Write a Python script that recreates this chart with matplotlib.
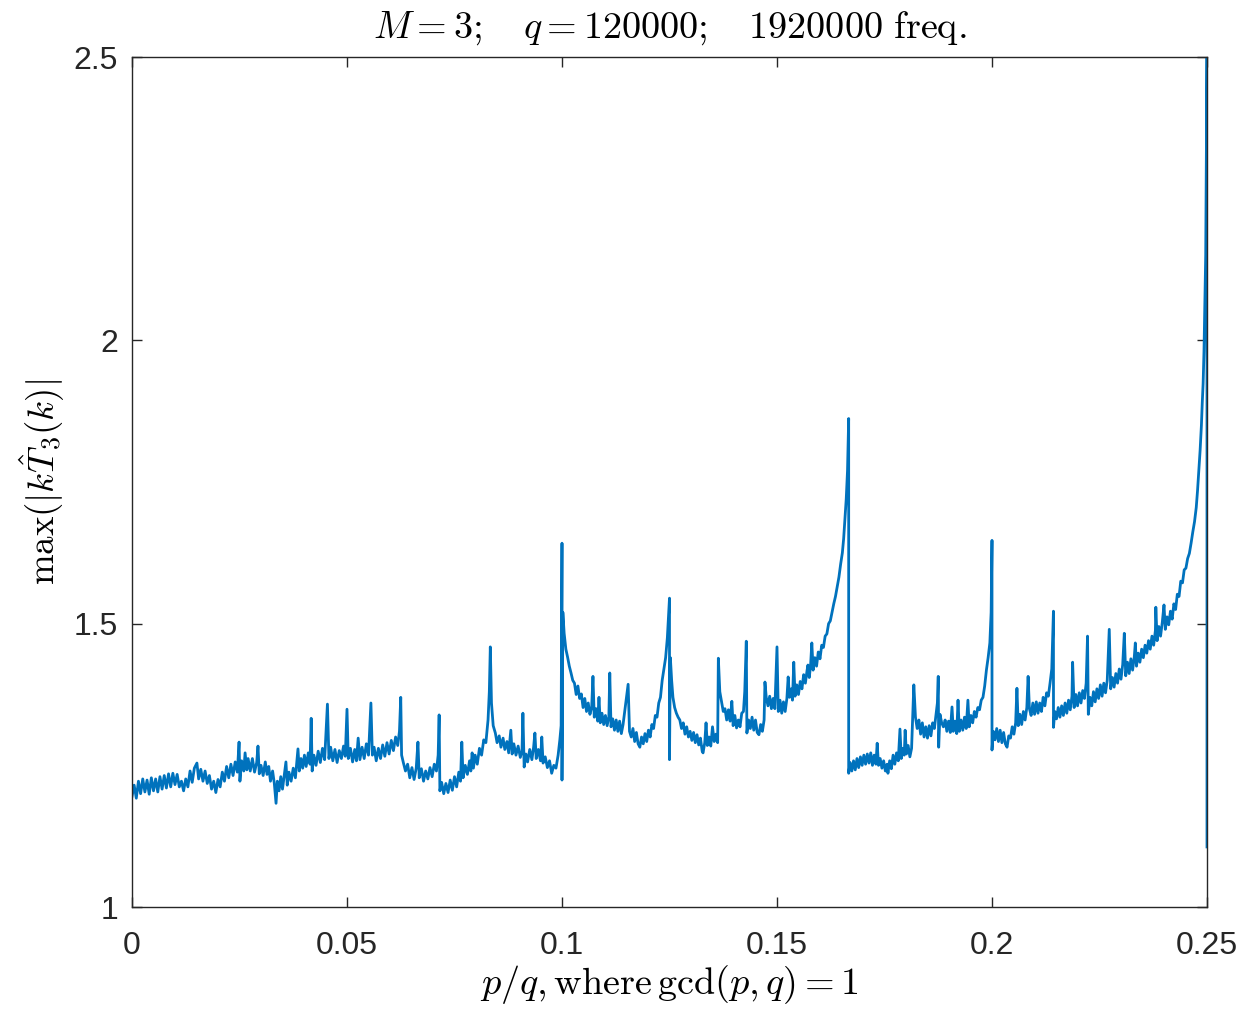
import numpy as np
import matplotlib
matplotlib.use("Agg")
import matplotlib.pyplot as plt

plt.rcParams['mathtext.fontset'] = 'cm'
plt.rcParams['font.family'] = ['Liberation Sans', 'DejaVu Sans']

# ---- data: (p/q, max|k T3(k)|) ----
seg_low = [  # 0 .. 0.1
    (0.0000, 1.195), (0.0005, 1.215), (0.0010, 1.192), (0.0015, 1.222), (0.0020, 1.200),
    (0.0025, 1.226), (0.0030, 1.203), (0.0035, 1.224), (0.0040, 1.199), (0.0045, 1.228),
    (0.0050, 1.205), (0.0055, 1.226), (0.0060, 1.203), (0.0065, 1.230), (0.0070, 1.208),
    (0.0075, 1.232), (0.0080, 1.210), (0.0085, 1.235), (0.0090, 1.212), (0.0095, 1.236),
    (0.0100, 1.216), (0.0105, 1.234), (0.0110, 1.212), (0.0115, 1.222), (0.0120, 1.205),
    (0.0125, 1.226), (0.0130, 1.212), (0.0135, 1.240), (0.0140, 1.220), (0.0145, 1.245),
    (0.0151, 1.254), (0.0155, 1.226), (0.0160, 1.243), (0.0165, 1.222), (0.0170, 1.240),
    (0.0175, 1.218), (0.0180, 1.232), (0.0185, 1.208), (0.0190, 1.222), (0.0195, 1.202),
    (0.0200, 1.225), (0.0205, 1.212), (0.0210, 1.238), (0.0215, 1.222), (0.0220, 1.248),
    (0.0225, 1.228), (0.0230, 1.252), (0.0235, 1.232), (0.0240, 1.256), (0.0245, 1.238),
    (0.0249, 1.291), (0.0251, 1.222), (0.0255, 1.258), (0.0260, 1.240), (0.0263, 1.272),
    (0.0267, 1.242), (0.0270, 1.262), (0.0275, 1.240), (0.0280, 1.262), (0.0285, 1.238),
    (0.0290, 1.255), (0.0293, 1.284), (0.0296, 1.235), (0.0300, 1.250), (0.0305, 1.232),
    (0.0310, 1.256), (0.0314, 1.234), (0.0318, 1.248), (0.0322, 1.222), (0.0327, 1.240),
    (0.0331, 1.218), (0.0335, 1.183), (0.0338, 1.222), (0.0342, 1.205), (0.0346, 1.230),
    (0.0350, 1.208), (0.0354, 1.232), (0.0358, 1.256), (0.0361, 1.215), (0.0365, 1.238),
    (0.0370, 1.222), (0.0375, 1.245), (0.0380, 1.228), (0.0386, 1.279), (0.0389, 1.240),
    (0.0393, 1.262), (0.0397, 1.245), (0.0401, 1.268), (0.0405, 1.248), (0.0410, 1.272),
    (0.0414, 1.252), (0.04167, 1.333), (0.0419, 1.240), (0.0423, 1.268), (0.0428, 1.250),
    (0.0433, 1.275), (0.0438, 1.255), (0.0443, 1.280), (0.0448, 1.260), (0.04545, 1.358),
    (0.0458, 1.262), (0.0462, 1.282), (0.0467, 1.258), (0.0472, 1.278), (0.0477, 1.255),
    (0.0482, 1.276), (0.0487, 1.262), (0.0492, 1.284), (0.0496, 1.266), (0.0500, 1.349),
    (0.0503, 1.262), (0.0508, 1.280), (0.0513, 1.256), (0.0518, 1.278), (0.0522, 1.258),
    (0.0526, 1.298), (0.0530, 1.260), (0.0535, 1.282), (0.0540, 1.262), (0.0545, 1.288),
    (0.0550, 1.268), (0.05556, 1.360), (0.0559, 1.268), (0.0563, 1.282), (0.0568, 1.258),
    (0.0573, 1.280), (0.0578, 1.262), (0.0583, 1.286), (0.0588, 1.266), (0.0593, 1.290),
    (0.0598, 1.270), (0.0603, 1.294), (0.0608, 1.276), (0.0613, 1.300), (0.0618, 1.285),
    (0.0622, 1.310), (0.0625, 1.370), (0.0627, 1.268), (0.0631, 1.255), (0.0636, 1.240),
    (0.0641, 1.252), (0.0646, 1.228), (0.0651, 1.246), (0.0656, 1.225), (0.0661, 1.245),
    (0.0665, 1.291), (0.0668, 1.228), (0.0673, 1.244), (0.0678, 1.222), (0.0683, 1.240),
    (0.0688, 1.226), (0.0693, 1.246), (0.0698, 1.230), (0.0703, 1.252), (0.0708, 1.240),
    (0.0712, 1.268), (0.07143, 1.339), (0.0716, 1.205), (0.0720, 1.220), (0.0725, 1.200),
    (0.0730, 1.218), (0.0735, 1.202), (0.0740, 1.224), (0.0745, 1.206), (0.0750, 1.230),
    (0.0755, 1.212), (0.0760, 1.238), (0.0764, 1.222), (0.0767, 1.291), (0.0770, 1.228),
    (0.0775, 1.250), (0.0780, 1.234), (0.0785, 1.258), (0.0788, 1.240), (0.0791, 1.272),
    (0.0794, 1.245), (0.0798, 1.268), (0.0803, 1.252), (0.0808, 1.280), (0.0813, 1.268),
    (0.0818, 1.295), (0.0823, 1.290), (0.0828, 1.330), (0.0831, 1.380), (0.08333, 1.459),
    (0.0836, 1.360), (0.0840, 1.320), (0.0845, 1.307), (0.0849, 1.290), (0.0854, 1.302),
    (0.0858, 1.282), (0.0863, 1.298), (0.0867, 1.278), (0.0872, 1.292), (0.0876, 1.272),
    (0.0881, 1.312), (0.0884, 1.270), (0.0888, 1.288), (0.0893, 1.268), (0.0898, 1.284),
    (0.0903, 1.264), (0.0907, 1.275), (0.09091, 1.342), (0.0912, 1.247), (0.0916, 1.270),
    (0.0920, 1.256), (0.0925, 1.278), (0.0930, 1.260), (0.0934, 1.282), (0.0937, 1.307),
    (0.0940, 1.262), (0.0945, 1.278), (0.0950, 1.258), (0.0953, 1.300), (0.0956, 1.254),
    (0.0961, 1.265), (0.0966, 1.246), (0.0971, 1.258), (0.0976, 1.236), (0.0981, 1.250),
    (0.0986, 1.245), (0.0991, 1.268), (0.0995, 1.295), (0.0998, 1.320), (0.1000, 1.642),
    (0.1000, 1.224),
]

seg_mid = [  # 0.1 .. 1/6
    (0.1002, 1.520), (0.1005, 1.483), (0.1009, 1.455), (0.1013, 1.441), (0.1017, 1.425),
    (0.1021, 1.413), (0.1025, 1.400), (0.1029, 1.395), (0.1033, 1.375), (0.1037, 1.390),
    (0.1041, 1.368), (0.1045, 1.376), (0.1049, 1.352), (0.1053, 1.368), (0.1057, 1.345),
    (0.1061, 1.360), (0.1065, 1.340), (0.1069, 1.352), (0.1072, 1.407), (0.1075, 1.335),
    (0.1079, 1.350), (0.1083, 1.328), (0.1086, 1.370), (0.1089, 1.325), (0.1093, 1.342),
    (0.1097, 1.322), (0.1101, 1.338), (0.1105, 1.320), (0.1109, 1.336), (0.11111, 1.413),
    (0.1114, 1.318), (0.1118, 1.332), (0.1122, 1.312), (0.1126, 1.330), (0.1130, 1.310),
    (0.1134, 1.328), (0.1138, 1.306), (0.1142, 1.322), (0.11538, 1.393), (0.1157, 1.310),
    (0.1161, 1.300), (0.1165, 1.315), (0.1169, 1.292), (0.1173, 1.308), (0.1177, 1.288),
    (0.1181, 1.282), (0.1185, 1.300), (0.1189, 1.288), (0.1193, 1.306), (0.1197, 1.292),
    (0.1201, 1.312), (0.1205, 1.300), (0.1209, 1.322), (0.1213, 1.315), (0.1217, 1.338),
    (0.1221, 1.335), (0.1225, 1.360), (0.1229, 1.370), (0.1233, 1.400), (0.1237, 1.420),
    (0.1241, 1.440), (0.1245, 1.475), (0.1250, 1.545), (0.1250, 1.260), (0.1252, 1.440),
    (0.1255, 1.400), (0.1258, 1.370), (0.1262, 1.352), (0.1266, 1.342), (0.1270, 1.335),
    (0.1274, 1.330), (0.1278, 1.315), (0.1282, 1.325), (0.1286, 1.305), (0.1290, 1.318),
    (0.1294, 1.300), (0.1298, 1.310), (0.1302, 1.294), (0.1306, 1.308), (0.1310, 1.290),
    (0.1314, 1.304), (0.1318, 1.286), (0.1322, 1.298), (0.1326, 1.275), (0.1328, 1.272),
    (0.1332, 1.290), (0.1335, 1.325), (0.1338, 1.285), (0.1342, 1.300), (0.1346, 1.284),
    (0.1350, 1.318), (0.1354, 1.292), (0.1358, 1.305), (0.1362, 1.290), (0.13636, 1.439),
    (0.1367, 1.380), (0.1371, 1.363), (0.1375, 1.345), (0.1379, 1.350), (0.1383, 1.330),
    (0.1387, 1.348), (0.1391, 1.328), (0.1395, 1.363), (0.1398, 1.320), (0.1402, 1.338),
    (0.1406, 1.316), (0.1410, 1.330), (0.1414, 1.318), (0.1418, 1.342), (0.1422, 1.345),
    (0.1425, 1.380), (0.14286, 1.469), (0.1430, 1.307), (0.1434, 1.330), (0.1438, 1.315),
    (0.1442, 1.335), (0.1446, 1.312), (0.1450, 1.330), (0.1454, 1.308), (0.1458, 1.304),
    (0.1462, 1.322), (0.1466, 1.310), (0.1470, 1.330), (0.1472, 1.397), (0.1475, 1.370),
    (0.1479, 1.355), (0.1483, 1.372), (0.1487, 1.350), (0.1491, 1.368), (0.1495, 1.350),
    (0.1500, 1.459), (0.1503, 1.345), (0.1507, 1.365), (0.1511, 1.342), (0.1515, 1.362),
    (0.1519, 1.345), (0.1523, 1.368), (0.1526, 1.406), (0.1529, 1.370), (0.1533, 1.385),
    (0.1536, 1.365), (0.1539, 1.432), (0.1542, 1.372), (0.1546, 1.392), (0.1550, 1.375),
    (0.1554, 1.398), (0.1558, 1.385), (0.1562, 1.410), (0.1566, 1.395), (0.1570, 1.418),
    (0.1572, 1.427), (0.1575, 1.405), (0.1578, 1.425), (0.1581, 1.466), (0.1584, 1.418),
    (0.1588, 1.440), (0.1592, 1.425), (0.1596, 1.450), (0.1600, 1.438), (0.1604, 1.462),
    (0.1608, 1.458), (0.1612, 1.478), (0.1616, 1.482), (0.1620, 1.500), (0.1624, 1.505),
    (0.1628, 1.520), (0.1632, 1.535), (0.1636, 1.548), (0.1640, 1.565), (0.1644, 1.582),
    (0.1648, 1.605), (0.1652, 1.625), (0.1655, 1.650), (0.1658, 1.685), (0.1661, 1.720),
    (0.1664, 1.770), (0.16667, 1.862), (0.16667, 1.236),
]

seg_high = [  # 1/6 .. 0.25
    (0.1670, 1.255), (0.1674, 1.240), (0.1678, 1.258), (0.1682, 1.242), (0.1686, 1.262),
    (0.1690, 1.246), (0.1694, 1.265), (0.1698, 1.250), (0.1702, 1.268), (0.1706, 1.252),
    (0.1710, 1.270), (0.1714, 1.254), (0.1718, 1.272), (0.1722, 1.250), (0.1726, 1.268),
    (0.1730, 1.252), (0.1733, 1.289), (0.1736, 1.250), (0.1740, 1.262), (0.1744, 1.245),
    (0.1748, 1.258), (0.1752, 1.240), (0.1756, 1.252), (0.1758, 1.236), (0.1762, 1.258),
    (0.1766, 1.244), (0.1770, 1.268), (0.1774, 1.252), (0.1778, 1.272), (0.1782, 1.258),
    (0.1786, 1.314), (0.1789, 1.262), (0.1793, 1.280), (0.1796, 1.268), (0.1798, 1.312),
    (0.1801, 1.270), (0.1805, 1.285), (0.1809, 1.265), (0.1813, 1.280), (0.18182, 1.392),
    (0.1822, 1.335), (0.1826, 1.315), (0.1830, 1.330), (0.1834, 1.305), (0.1838, 1.325),
    (0.1842, 1.300), (0.1846, 1.318), (0.1850, 1.298), (0.1854, 1.320), (0.1858, 1.302),
    (0.1862, 1.325), (0.1866, 1.315), (0.1870, 1.340), (0.1873, 1.360), (0.1875, 1.407),
    (0.1876, 1.282), (0.1879, 1.340), (0.1883, 1.325), (0.1887, 1.318), (0.1891, 1.330),
    (0.1895, 1.310), (0.1899, 1.328), (0.1903, 1.308), (0.1907, 1.353), (0.1910, 1.310),
    (0.1914, 1.328), (0.1918, 1.306), (0.1921, 1.365), (0.1924, 1.310), (0.1928, 1.330),
    (0.1932, 1.312), (0.1936, 1.335), (0.1940, 1.315), (0.1944, 1.365), (0.1947, 1.318),
    (0.1951, 1.338), (0.1955, 1.325), (0.1959, 1.345), (0.1963, 1.335), (0.1967, 1.352),
    (0.1971, 1.348), (0.1975, 1.365), (0.1979, 1.370), (0.1983, 1.390), (0.1987, 1.418),
    (0.1991, 1.440), (0.1995, 1.466), (0.1998, 1.520), (0.2000, 1.647), (0.2000, 1.277),
    (0.2003, 1.310), (0.2007, 1.295), (0.2011, 1.315), (0.2015, 1.292), (0.2019, 1.312),
    (0.2023, 1.290), (0.2027, 1.308), (0.2031, 1.288), (0.2035, 1.282), (0.2039, 1.302),
    (0.2043, 1.298), (0.2047, 1.318), (0.2051, 1.305), (0.2055, 1.325), (0.2058, 1.386),
    (0.2061, 1.320), (0.2065, 1.340), (0.2069, 1.322), (0.2073, 1.345), (0.2077, 1.330),
    (0.2081, 1.352), (0.2084, 1.407), (0.2087, 1.350), (0.2091, 1.338), (0.2095, 1.360),
    (0.2099, 1.340), (0.2103, 1.362), (0.2107, 1.342), (0.2111, 1.360), (0.2115, 1.345),
    (0.2119, 1.370), (0.2123, 1.355), (0.2127, 1.378), (0.2131, 1.372), (0.2135, 1.395),
    (0.2139, 1.420), (0.21429, 1.522), (0.2143, 1.317), (0.2146, 1.345), (0.2150, 1.332),
    (0.2154, 1.352), (0.2158, 1.335), (0.2162, 1.355), (0.2166, 1.338), (0.2170, 1.360),
    (0.2174, 1.342), (0.2178, 1.365), (0.2182, 1.348), (0.2186, 1.372), (0.21875, 1.432),
    (0.2191, 1.352), (0.2195, 1.375), (0.2199, 1.355), (0.2203, 1.378), (0.2207, 1.360),
    (0.2211, 1.382), (0.2215, 1.368), (0.2219, 1.395), (0.22222, 1.478), (0.2224, 1.340),
    (0.2228, 1.370), (0.2232, 1.355), (0.2236, 1.380), (0.2240, 1.362), (0.2244, 1.385),
    (0.2248, 1.368), (0.2252, 1.392), (0.2256, 1.372), (0.2260, 1.395), (0.2264, 1.378),
    (0.2268, 1.400), (0.22727, 1.490), (0.2276, 1.385), (0.2280, 1.405), (0.2284, 1.388),
    (0.2288, 1.412), (0.2292, 1.395), (0.2296, 1.420), (0.2300, 1.402), (0.2304, 1.428),
    (0.23077, 1.483), (0.2311, 1.408), (0.2315, 1.432), (0.2319, 1.412), (0.2323, 1.438),
    (0.2327, 1.418), (0.2331, 1.442), (0.23333, 1.466), (0.2336, 1.425), (0.2340, 1.448),
    (0.2344, 1.432), (0.2348, 1.455), (0.2352, 1.440), (0.2356, 1.462), (0.2360, 1.448),
    (0.2364, 1.470), (0.2368, 1.455), (0.2372, 1.478), (0.2376, 1.462), (0.2380, 1.488),
    (0.23810, 1.529), (0.2384, 1.470), (0.2388, 1.495), (0.2392, 1.478), (0.2396, 1.502),
    (0.2400, 1.533), (0.2403, 1.490), (0.2407, 1.512), (0.2411, 1.498), (0.2415, 1.522),
    (0.2419, 1.508), (0.2423, 1.535), (0.2427, 1.525), (0.2431, 1.552), (0.2435, 1.548),
    (0.2439, 1.575), (0.2443, 1.572), (0.2447, 1.595), (0.2451, 1.598), (0.2455, 1.615),
    (0.2459, 1.624), (0.2463, 1.642), (0.2467, 1.662), (0.2471, 1.680), (0.2475, 1.705),
    (0.2478, 1.735), (0.2481, 1.770), (0.2484, 1.806), (0.2487, 1.850), (0.2489, 1.890),
    (0.2491, 1.924), (0.2493, 1.980), (0.2495, 2.070), (0.2497, 2.150), (0.2500, 2.500),
    (0.2500, 1.106),
]

x_ticks = [0, 0.05, 0.1, 0.15, 0.2, 0.25]
x_ticklabels = ['0', '0.05', '0.1', '0.15', '0.2', '0.25']
y_ticks = [1, 1.5, 2, 2.5]
y_ticklabels = ['1', '1.5', '2', '2.5']

title_txt = r'$M=3;\quad q=120000;\quad 1920000\ \mathrm{freq.}$'
xlabel_txt = r'$p/q,\mathrm{where\,gcd}(p,q)=1$'
ylabel_txt = r'$\max(|k\hat{T}_3(k)|$'

pts = seg_low + seg_mid + seg_high
xs = np.array([p[0] for p in pts])
ys = np.array([p[1] for p in pts])

fig = plt.figure(figsize=(12.47, 10.10), dpi=100)
ax = fig.add_axes([0.10585, 0.10198, 0.86207, 0.84158])
ax.plot(xs, ys, color='#0072BD', lw=2.0)

ax.set_xlim(0, 0.25)
ax.set_ylim(1, 2.5)
ax.set_xticks(x_ticks)
ax.set_xticklabels(x_ticklabels)
ax.set_yticks(y_ticks)
ax.set_yticklabels(y_ticklabels)

axc = '#262626'
for s in ax.spines.values():
    s.set_color(axc)
    s.set_linewidth(1.0)
ax.tick_params(direction='in', length=7, width=1.0, colors=axc,
               top=True, right=True, labelsize=23)
ax.tick_params(axis='x', pad=17)
ax.tick_params(axis='y', pad=10)

ax.set_title(title_txt, fontsize=27.5, pad=14, color='black')
ax.set_xlabel(xlabel_txt, fontsize=27.5, labelpad=2, color='black')
ax.set_ylabel(ylabel_txt, fontsize=26.5, labelpad=5, color='black')

fig.savefig('out.png', dpi=100, facecolor='white')
